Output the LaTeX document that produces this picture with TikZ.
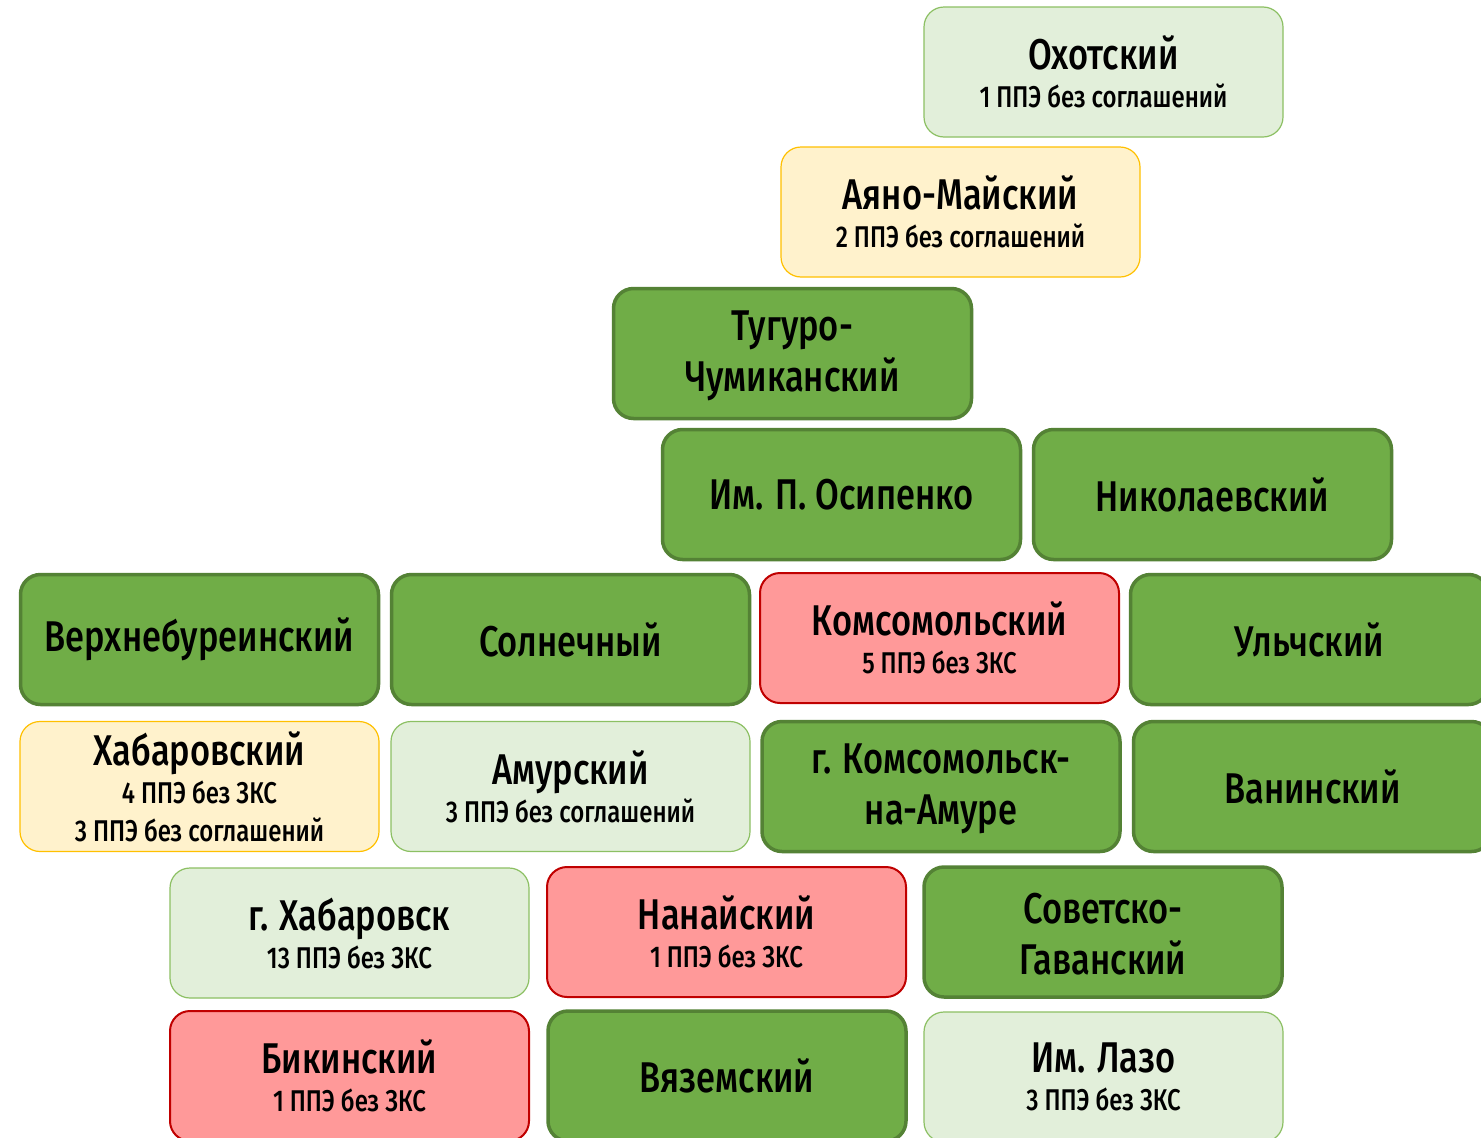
\documentclass[tikz,border=0pt]{standalone}
\usepackage{fontspec}
\setmainfont{Fira Sans}[UprightFont={* Medium},FakeStretch=0.8]
\definecolor{dgfill}{HTML}{70AD47}
\definecolor{dgline}{HTML}{548235}
\definecolor{lgfill}{HTML}{E2EFDA}
\definecolor{lgline}{HTML}{8CC063}
\definecolor{ylfill}{HTML}{FFF2CC}
\definecolor{ylline}{HTML}{FFC000}
\definecolor{rdfill}{HTML}{FF9999}
\definecolor{rdline}{HTML}{C00000}
\newcommand\ttl[1]{{\fontsize{43}{50}\selectfont #1}}
\tikzset{
  box/.style={rounded corners=20pt, minimum width=359pt, minimum height=130pt, inner sep=0pt, align=center, font=\fontsize{30}{38}\selectfont},
  dg/.style={box, fill=dgfill, draw=dgline, line width=3.5pt, font=\fontsize{43}{51}\selectfont},
  lg/.style={box, fill=lgfill, draw=lgline, line width=1.2pt},
  yl/.style={box, fill=ylfill, draw=ylline, line width=1.2pt},
  rd/.style={box, fill=rdfill, draw=rdline, line width=2pt},
}
\begin{document}
\begin{tikzpicture}[x=1pt,y=-1pt]
\clip (0,0) rectangle (1481,1138);
\fill[white] (0,0) rectangle (1481,1138);
\node[lg] (ohot) at (1103.5,72) {\ttl{Охотский}\\1 ППЭ без соглашений};
\node[yl] (ayano) at (960.5,212) {\ttl{Аяно-Майский}\\2 ППЭ без соглашений};
\node[dg, minimum width=358pt] (tuguro) at (792.5,353.5) {\rule{0pt}{34pt}Тугуро-\\Чумиканский};
\node[dg, minimum width=358pt] (osip) at (841.5,494.5) {Им. П. Осипенко};
\node[dg, minimum width=358pt] (nikol) at (1212.5,494.5) {Николаевский};
\node[dg, minimum width=358pt] (verkh) at (199.5,639.5) {Верхнебуреинский};
\node[dg, minimum width=358pt] (soln) at (570.5,639.5) {Солнечный};
\node[rd] (koms) at (939.5,638) {\ttl{Комсомольский}\\5 ППЭ без ЗКС};
\node[dg, minimum width=358pt] (ulch) at (1309.5,639.5) {Ульчский};
\node[yl] (khab) at (199.5,786.5) {\ttl{Хабаровский}\\4 ППЭ без ЗКС\\3 ППЭ без соглашений};
\node[lg] (amur) at (570.5,786.5) {\ttl{Амурский}\\3 ППЭ без соглашений};
\node[dg, minimum width=358pt] (kna) at (941,786.5) {\rule{0pt}{34pt}г. Комсомольск-\\на-Амуре};
\node[dg, minimum width=358pt] (vanin) at (1312.5,786.5) {Ванинский};
\node[lg] (khabg) at (349.5,933) {\ttl{г. Хабаровск}\\13 ППЭ без ЗКС};
\node[rd] (nanai) at (726.5,932) {\ttl{Нанайский}\\1 ППЭ без ЗКС};
\node[dg, minimum width=358pt] (sovgav) at (1103,932) {\rule{0pt}{34pt}Советско-\\Гаванский};
\node[rd] (bikin) at (349.5,1076) {\ttl{Бикинский}\\1 ППЭ без ЗКС};
\node[dg, minimum width=358pt] (vyaz) at (727,1076) {Вяземский};
\node[lg] (lazo) at (1103.5,1077) {\ttl{Им. Лазо}\\3 ППЭ без ЗКС};
\end{tikzpicture}
\end{document}
